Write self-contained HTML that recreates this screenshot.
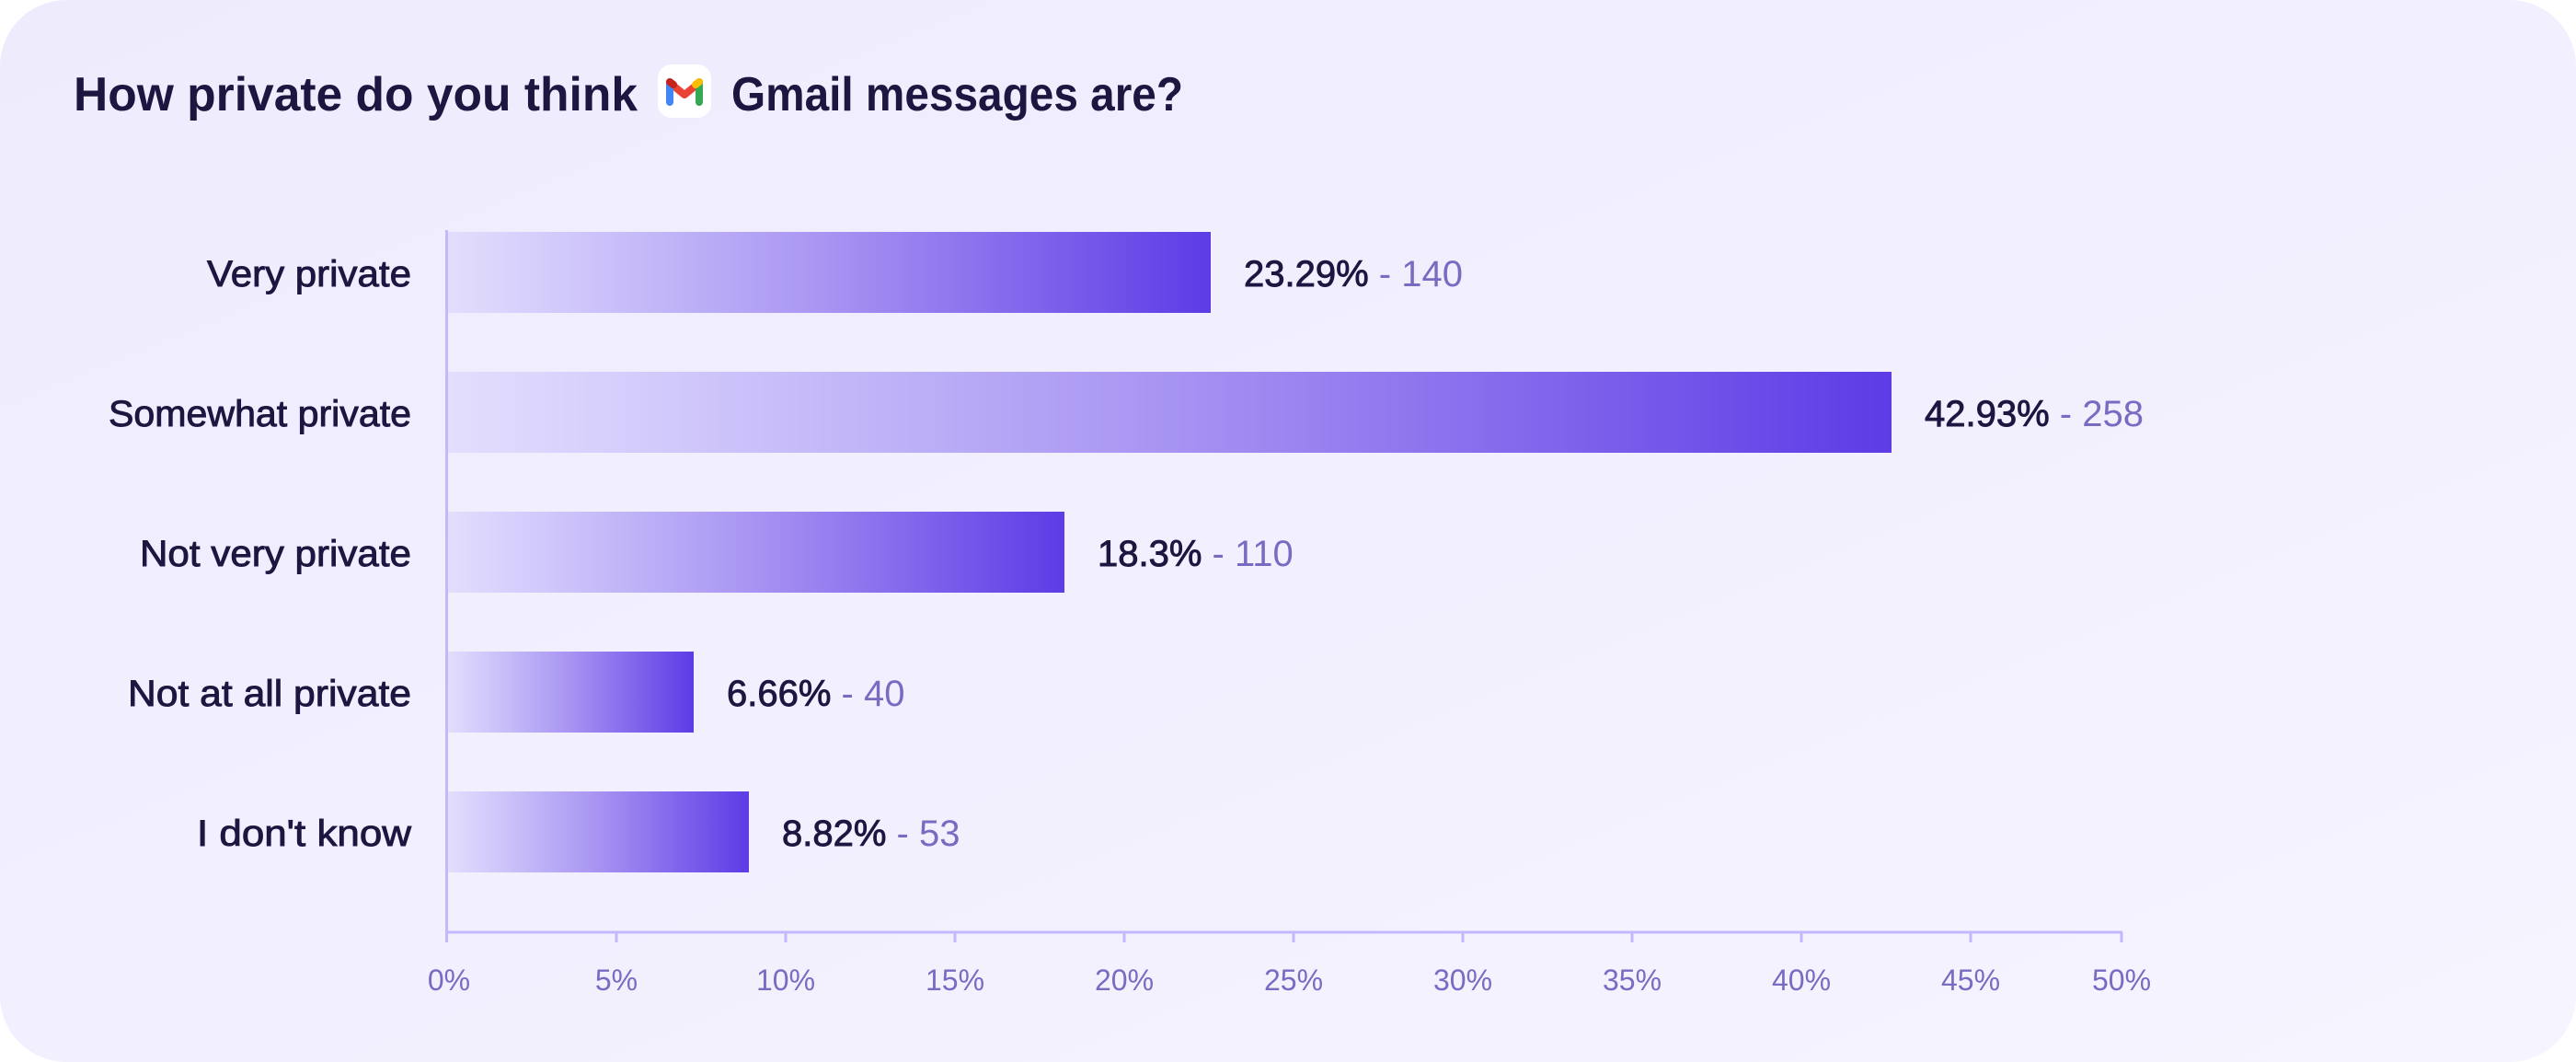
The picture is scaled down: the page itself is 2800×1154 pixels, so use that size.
<!DOCTYPE html>
<html><head><meta charset="utf-8"><style>
html,body{margin:0;padding:0;background:#fff;}
svg{display:block;}
text{font-family:"Liberation Sans",sans-serif;}
</style></head><body>
<svg width="2800" height="1154" viewBox="0 0 2800 1154" xmlns="http://www.w3.org/2000/svg">
<defs>
<linearGradient id="bg" x1="0" y1="0" x2="1" y2="1">
<stop offset="0" stop-color="#eeebfd"/><stop offset="1" stop-color="#f6f4ff"/>
</linearGradient>
<linearGradient id="bar" x1="0" y1="0" x2="1" y2="0">
<stop offset="0" stop-color="#e3defd"/><stop offset="0.15" stop-color="#d2c9fb"/><stop offset="0.5" stop-color="#a794f2"/><stop offset="1" stop-color="#5d3be6"/>
</linearGradient>
</defs>
<rect x="0" y="0" width="2800" height="1154" rx="72" fill="url(#bg)"/>
<text x="80" y="120" font-size="52" font-weight="bold" fill="#1c1640" textLength="613" lengthAdjust="spacingAndGlyphs">How private do you think</text>
<rect x="715" y="70" width="58" height="58" rx="15" fill="#ffffff"/>
<path d="M728 90 L744 103 L760 90" stroke="#ea4335" stroke-width="8" fill="none" stroke-linejoin="round"/>
<path d="M728 89 V111" stroke="#4285f4" stroke-width="8" stroke-linecap="round"/>
<path d="M760 89 V111" stroke="#34a853" stroke-width="8" stroke-linecap="round"/>
<path d="M728 89 L732 92" stroke="#c5221f" stroke-width="8" stroke-linecap="round"/>
<path d="M760 89 L756 92" stroke="#fbbc04" stroke-width="8" stroke-linecap="round"/>
<text x="795" y="120" font-size="52" font-weight="bold" fill="#1c1640" textLength="491" lengthAdjust="spacingAndGlyphs">Gmail messages are?</text>

<g font-size="40" fill="#1c1640" stroke="#1c1640" stroke-width="0.9" text-anchor="end">
<text x="447" y="311" textLength="222" lengthAdjust="spacingAndGlyphs">Very private</text>
<text x="447" y="463" textLength="329" lengthAdjust="spacingAndGlyphs">Somewhat private</text>
<text x="447" y="615" textLength="295" lengthAdjust="spacingAndGlyphs">Not very private</text>
<text x="447" y="767" textLength="308" lengthAdjust="spacingAndGlyphs">Not at all private</text>
<text x="447" y="919" textLength="233" lengthAdjust="spacingAndGlyphs">I don't know</text>
</g>

<rect x="486" y="252" width="830" height="88" fill="url(#bar)"/>
<rect x="486" y="404" width="1570" height="88" fill="url(#bar)"/>
<rect x="486" y="556" width="671" height="88" fill="url(#bar)"/>
<rect x="486" y="708" width="268" height="88" fill="url(#bar)"/>
<rect x="486" y="860" width="328" height="88" fill="url(#bar)"/>

<g font-size="40">
<text x="1352" y="311" fill="#1c1640"><tspan stroke="#1c1640" stroke-width="0.9">23.29%</tspan><tspan fill="#7a6bc2"> - 140</tspan></text>
<text x="2092" y="463" fill="#1c1640"><tspan stroke="#1c1640" stroke-width="0.9">42.93%</tspan><tspan fill="#7a6bc2"> - 258</tspan></text>
<text x="1193" y="615" fill="#1c1640"><tspan stroke="#1c1640" stroke-width="0.9">18.3%</tspan><tspan fill="#7a6bc2"> - 110</tspan></text>
<text x="790" y="767" fill="#1c1640"><tspan stroke="#1c1640" stroke-width="0.9">6.66%</tspan><tspan fill="#7a6bc2"> - 40</tspan></text>
<text x="850" y="919" fill="#1c1640"><tspan stroke="#1c1640" stroke-width="0.9">8.82%</tspan><tspan fill="#7a6bc2"> - 53</tspan></text>
</g>

<g stroke="#c4b8fc" stroke-width="3">
<line x1="485.5" y1="250" x2="485.5" y2="1024"/>
<line x1="484" y1="1013" x2="2307" y2="1013"/>
<line x1="670" y1="1013" x2="670" y2="1024"/>
<line x1="854" y1="1013" x2="854" y2="1024"/>
<line x1="1038" y1="1013" x2="1038" y2="1024"/>
<line x1="1222" y1="1013" x2="1222" y2="1024"/>
<line x1="1406" y1="1013" x2="1406" y2="1024"/>
<line x1="1590" y1="1013" x2="1590" y2="1024"/>
<line x1="1774" y1="1013" x2="1774" y2="1024"/>
<line x1="1958" y1="1013" x2="1958" y2="1024"/>
<line x1="2142" y1="1013" x2="2142" y2="1024"/>
<line x1="2306" y1="1013" x2="2306" y2="1024"/>
</g>
<g font-size="32" fill="#7a6bc2" text-anchor="middle">
<text x="488" y="1076">0%</text>
<text x="670" y="1076">5%</text>
<text x="854" y="1076">10%</text>
<text x="1038" y="1076">15%</text>
<text x="1222" y="1076">20%</text>
<text x="1406" y="1076">25%</text>
<text x="1590" y="1076">30%</text>
<text x="1774" y="1076">35%</text>
<text x="1958" y="1076">40%</text>
<text x="2142" y="1076">45%</text>
<text x="2306" y="1076">50%</text>
</g>
</svg>
</body></html>
